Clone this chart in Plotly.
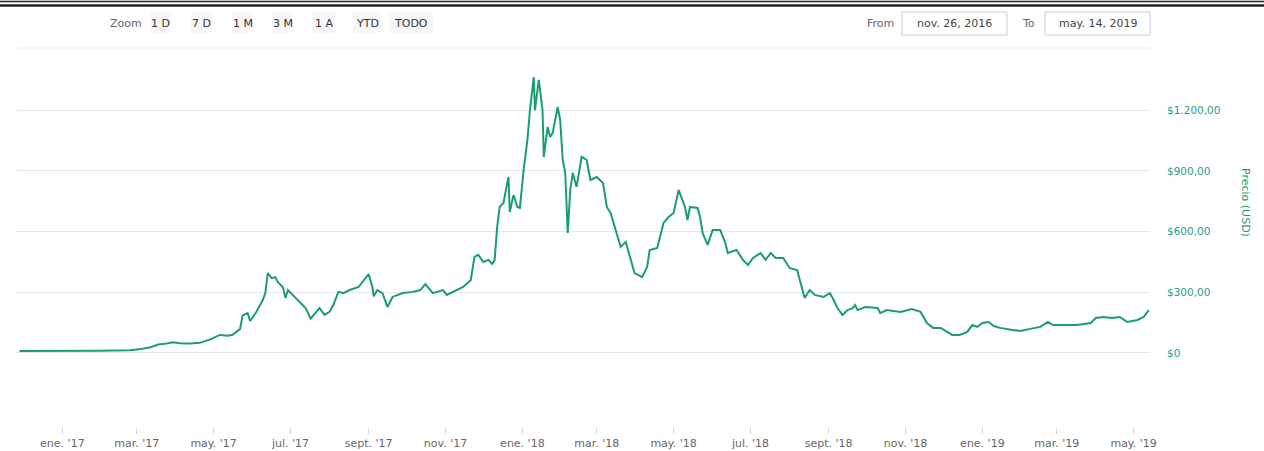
import plotly.graph_objects as go
import pandas as pd

# ---------------- data ----------------
START = "2016-11-26"
END = "2019-05-14"
# days since 2016-11-26
days = [2, 34, 66, 90, 98, 106, 112, 117, 124, 129, 137, 145, 153, 161, 167, 171,
        177, 179, 183, 185, 190, 195, 197, 199, 202, 205, 207, 211, 213, 215, 219,
        225, 229, 233, 237, 240, 244, 248, 251, 255, 259, 264, 271, 275, 279, 282,
        283, 286, 290, 294, 298, 306, 314, 320, 324, 330, 338, 341, 349, 354, 360,
        363, 366, 370, 374, 377, 379, 381, 383, 386, 389, 390, 391, 394, 397, 399,
        402, 405, 407, 410, 411, 413, 414, 417, 418, 421, 423, 425, 429, 431, 433,
        435, 437, 439, 441, 444, 448, 452, 455, 460, 465, 468, 471, 475, 479, 483,
        487, 490, 496, 500, 502, 508, 513, 517, 521, 525, 528, 530, 532, 534, 540,
        542, 544, 548, 552, 558, 562, 564, 571, 576, 580, 584, 590, 594, 598, 602,
        608, 613, 619, 623, 625, 629, 633, 640, 645, 648, 651, 655, 659, 663, 665,
        667, 673, 683, 685, 690, 701, 710, 717, 722, 727, 733, 738, 742, 748, 754,
        758, 762, 766, 771, 775, 780, 790, 796, 804, 812, 818, 822, 830, 841, 852,
        856, 862, 869, 875, 881, 889, 894, 898]
price = [10, 9, 11, 14, 19, 28, 42, 45, 53, 48, 47, 50, 66, 89, 85, 90,
         118, 185, 197, 158, 204, 262, 295, 395, 370, 375, 350, 326, 272, 311, 287,
         247, 222, 170, 203, 222, 188, 203, 237, 302, 296, 311, 326, 360, 390, 326,
         280, 311, 296, 227, 277, 296, 302, 311, 341, 296, 311, 287, 311, 326, 360,
         475, 485, 450, 460, 440, 460, 623, 722, 741, 840, 870, 697, 781, 722, 717,
         905, 1053, 1201, 1364, 1200, 1315, 1350, 1200, 969, 1117, 1068, 1087, 1216, 1152, 954,
         890, 593, 806, 890, 821, 969, 954, 855, 870, 840, 722, 692, 608, 524, 549,
         460, 395, 375, 425, 509, 519, 643, 672, 692, 806, 756, 722, 657, 722, 717,
         672, 593, 534, 608, 608, 544, 494, 509, 460, 435, 470, 494, 460, 494, 470,
         470, 420, 410, 326, 272, 311, 287, 277, 296, 262, 222, 188, 212, 222, 237,
         212, 227, 222, 197, 212, 203, 217, 203, 148, 124, 124, 104, 89, 89, 104,
         138, 129, 148, 153, 133, 124, 114, 109, 119, 129, 153, 138, 138, 138, 148,
         173, 178, 173, 178, 153, 163, 178, 212]

tick_dates = ["2017-01-01", "2017-03-01", "2017-05-01", "2017-07-01", "2017-09-01",
              "2017-11-01", "2018-01-01", "2018-03-01", "2018-05-01", "2018-07-01",
              "2018-09-01", "2018-11-01", "2019-01-01", "2019-03-01", "2019-05-01"]
tick_text = ["ene. '17", "mar. '17", "may. '17", "jul. '17", "sept. '17", "nov. '17",
             "ene. '18", "mar. '18", "may. '18", "jul. '18", "sept. '18", "nov. '18",
             "ene. '19", "mar. '19", "may. '19"]
y_ticks = [0, 300, 600, 900, 1200]
y_tick_text = ["$0", "$300,00", "$600,00", "$900,00", "$1.200,00"]

buttons = ["1 D", "7 D", "1 M", "3 M", "1 A", "YTD", "TODO"]
from_text = "nov. 26, 2016"
to_text = "may. 14, 2019"

dates = pd.Timestamp(START) + pd.to_timedelta(days, unit="D")

# ---------------- layout geometry ----------------
W, H = 1264, 451
L, R, T, B = 17, 114, 55, 24
PW, PH = W - L - R, H - T - B

def px(x):
    return (x - L) / PW

def py(y):
    return (H - B - y) / PH

FONT = "DejaVu Sans"
GREEN = "#1a9e6e"

fig = go.Figure()
fig.add_trace(go.Scatter(x=dates, y=price, mode="lines",
                         line=dict(color=GREEN, width=2), hoverinfo="skip"))

shapes = []
annotations = []

def label(text, x, y, color="#666", size=11, xanchor="center", angle=0):
    annotations.append(dict(text=text, xref="paper", yref="paper", x=px(x), y=py(y),
                            xanchor=xanchor, yanchor="middle", showarrow=False,
                            textangle=angle,
                            font=dict(family=FONT, size=size, color=color)))

# top border (double line)
shapes.append(dict(type="line", xref="paper", yref="paper", x0=px(0), x1=px(W),
                   y0=py(1.5), y1=py(1.5), line=dict(color="#222", width=1.5)))
shapes.append(dict(type="line", xref="paper", yref="paper", x0=px(0), x1=px(W),
                   y0=py(5.5), y1=py(5.5), line=dict(color="#222", width=2.5)))
# separator under the toolbar
shapes.append(dict(type="line", xref="paper", yref="paper", x0=px(18), x1=px(1150),
                   y0=py(48), y1=py(48), line=dict(color="#ececec", width=1)))

# range selector buttons
label("Zoom", 126, 23)
btn_pos = [(150, 171), (191, 212), (232, 253), (272, 293), (313, 335), (353, 381), (389, 433)]
for lab, (x0, x1) in zip(buttons, btn_pos):
    shapes.append(dict(type="rect", xref="paper", yref="paper", x0=px(x0), x1=px(x1),
                       y0=py(33), y1=py(12), fillcolor="#f7f7f7", line=dict(width=0)))
    label(lab, (x0 + x1) / 2, 23, color="#333")

# From / To inputs
label("From", 896, 23, xanchor="right")
label("To", 1037, 23, xanchor="right")
for (x0, x1), txt in [((902, 1007), from_text), ((1045, 1150), to_text)]:
    shapes.append(dict(type="rect", xref="paper", yref="paper", x0=px(x0), x1=px(x1),
                       y0=py(35), y1=py(12), fillcolor="white",
                       line=dict(color="#cccccc", width=1)))
    label(txt, (x0 + x1) / 2, 23, color="#444")

# y-axis title
label("Precio (USD)", 1246, 202, color=GREEN, angle=90)

fig.update_layout(
    width=W, height=H,
    margin=dict(l=L, r=R, t=T, b=B, pad=0, autoexpand=False),
    paper_bgcolor="white", plot_bgcolor="white",
    showlegend=False,
    font=dict(family=FONT),
    shapes=shapes, annotations=annotations,
    xaxis=dict(range=[START, END], tickmode="array", tickvals=tick_dates, ticktext=tick_text,
               showgrid=False, zeroline=False, showline=False, automargin=False,
               ticks="outside", ticklen=6, tickcolor="#ccd6eb",
               tickfont=dict(family=FONT, size=11, color="#666")),
    yaxis=dict(range=[-366, 1473], side="right", tickmode="array", tickvals=y_ticks,
               ticktext=y_tick_text, showgrid=True, gridcolor="#e6e6e6", gridwidth=1,
               zeroline=False, showline=False, ticks="", ticklabelstandoff=16,
               automargin=False,
               tickfont=dict(family=FONT, size=10.5, color="#2aa07a")),
)

fig.write_html("out.html")
